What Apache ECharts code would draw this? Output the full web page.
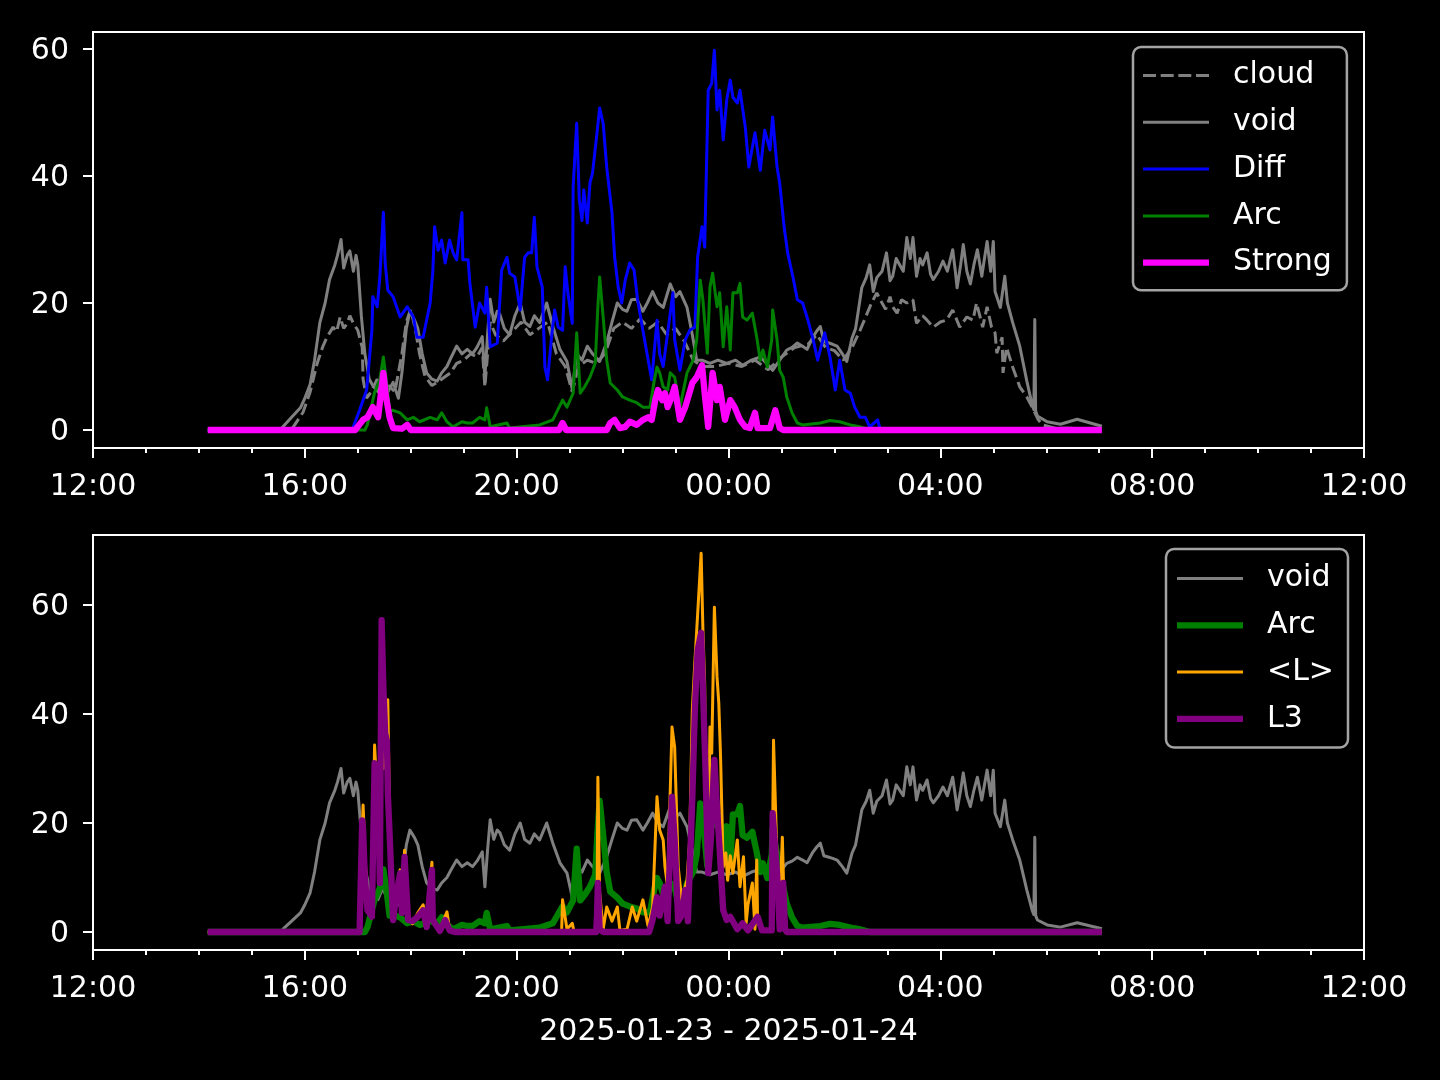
<!DOCTYPE html>
<html><head><meta charset="utf-8">
<script src="https://cdn.jsdelivr.net/npm/echarts@6/dist/echarts.min.js"></script>
<style>html,body{margin:0;background:#000}#c{width:1440px;height:1080px}</style>
</head><body><div id="c"></div>
<script>
// ---- tick labels / texts ----
const xTickLabels = ["12:00","16:00","20:00","00:00","04:00","08:00","12:00"];
const yTicksTop = [0,20,40,60];
const yTicksBottom = [0,20,40,60];
const dateLabel = "2025-01-23 - 2025-01-24";

// ---- series values: [local time, value] ----
const cloud = [["14:10",0],["15:45",0],["15:47",0.5],["15:58",2.8],["16:06",6],["16:14",10.5],["16:20",13],["16:25",14.6],["16:32",16.2],["16:36",15.5],["16:40",17.8],["16:44",16],["16:48",16.8],["16:51",18],["16:55",16.8],["17:00",15.7],["17:05",13],["17:06",8],["17:10",5],["17:15",6],["17:22",8],["17:28",5.5],["17:35",7],["17:42",6],["17:50",12],["17:55",17],["18:00",19],["18:05",16],["18:10",12],["18:16",8.5],["18:24",7],["18:30",7.5],["18:38",8.3],["18:45",9],["18:52",10.5],["19:00",11],["19:08",12],["19:15",11.5],["19:21",13],["19:24",6.8],["19:30",17],["19:36",15],["19:45",14],["19:55",15.5],["20:05",17],["20:15",15],["20:25",16],["20:35",17],["20:45",12],["20:55",10],["21:03",6],["21:10",10],["21:20",11],["21:30",10.5],["21:40",12],["21:50",16],["22:00",17],["22:10",16],["22:20",17.5],["22:30",16],["22:40",17],["22:50",15],["23:00",16],["23:10",14],["23:20",11],["23:30",10],["23:45",10],["00:00",10.5],["00:15",10],["00:30",11],["00:45",9.5],["01:00",11.5],["01:15",13],["01:30",13.5],["01:40",15],["01:50",13],["02:00",12.5],["02:10",11],["02:20",13],["02:29",15.7],["02:36",18],["02:42",20],["02:48",21.6],["02:52",20.5],["02:58",19],["03:03",21],["03:06",19.4],["03:11",18.4],["03:16",20.5],["03:22",20],["03:29",20.5],["03:33",16.8],["03:40",18],["03:45",17.3],["03:52",16.2],["04:00",17],["04:07",17.3],["04:14",18.9],["04:22",16.2],["04:30",17.8],["04:37",17.3],["04:41",20],["04:48",16.2],["04:53",19.4],["04:58",16.2],["05:02",15.3],["05:04",12.1],["05:10",14.6],["05:11",9],["05:15",13],["05:22",9.9],["05:30",6.8],["05:38",5.2],["05:44",3.6],["05:51",1.6],["05:56",0.8],["06:10",0.3],["07:03",0.2]];

const voidVals = [["14:10",0],["15:32",0],["15:37",0.8],["15:45",2],["15:55",3.5],["16:00",5],["16:06",7.2],["16:11",11],["16:17",16.9],["16:23",20],["16:28",23.7],["16:34",26],["16:37",27.5],["16:41",30],["16:44",25.5],["16:48",27.5],["16:51",28.2],["16:55",25],["16:58",27.5],["17:00",26],["17:04",18],["17:08",12],["17:13",8],["17:17",7],["17:23",6],["17:28",8],["17:34",6],["17:40",7.5],["17:46",5],["17:50",9],["17:55",16],["17:59",18.7],["18:04",17.4],["18:08",16],["18:13",12],["18:18",9],["18:24",8],["18:30",7.7],["18:35",9],["18:41",10],["18:46",11.5],["18:52",13.2],["18:58",12],["19:04",12.7],["19:10",12],["19:15",13],["19:21",14.7],["19:24",8.3],["19:27",15],["19:30",20.6],["19:34",17],["19:38",18.7],["19:41",18.2],["19:46",16],["19:52",15],["19:58",18],["20:04",20],["20:09",17],["20:15",16.3],["20:20",18],["20:26",16.9],["20:34",20],["20:41",16.3],["20:49",12.7],["20:57",10.8],["21:03",6.4],["21:08",12],["21:14",11],["21:20",13.2],["21:26",12],["21:34",10.8],["21:42",13.8],["21:48",17],["21:54",20],["22:00",19],["22:05",18.7],["22:10",20.5],["22:16",20.6],["22:23",18.7],["22:28",20],["22:34",21.8],["22:40",20],["22:46",19.3],["22:54",23],["23:00",21],["23:05",21.8],["23:13",19.3],["23:19",15],["23:24",11],["23:30",11],["23:39",10.5],["23:48",11],["23:58",10.5],["00:08",11],["00:16",10.2],["00:26",11],["00:36",11.5],["00:43",10.5],["00:50",9.4],["00:58",11],["01:06",12.6],["01:12",13],["01:18",13.7],["01:24",13.2],["01:29",12.7],["01:35",14.5],["01:40",15.6],["01:44",16.3],["01:48",14],["01:52",13.8],["01:58",13.5],["02:03",13.2],["02:09",12],["02:14",10.8],["02:20",14.5],["02:24",16],["02:27",18.7],["02:31",22.4],["02:36",24],["02:40",26],["02:44",21.8],["02:48",24],["02:54",25],["02:59",27.9],["03:03",23.5],["03:06",24.2],["03:10",27],["03:14",26],["03:18",25],["03:22",30.3],["03:26",27],["03:29",30.3],["03:33",24.2],["03:37",27],["03:40",26],["03:45",27.9],["03:49",24.5],["03:52",23.7],["03:58",25],["04:03",26.6],["04:08",25],["04:14",28.4],["04:17",25],["04:19",22.4],["04:23",26],["04:26",29.2],["04:30",25],["04:34",23],["04:38",26],["04:42",28.4],["04:47",24.2],["04:50",27],["04:53",29.7],["04:57",25],["05:00",29.7],["05:02",21.8],["05:08",19.3],["05:13",24.2],["05:16",20],["05:22",16.9],["05:30",13.2],["05:38",7.7],["05:44",4],["05:46",3.2],["05:47",17.4],["05:48",3],["05:50",2.2],["06:01",1.3],["06:16",0.9],["06:35",1.7],["07:03",0.6]];

const diff = [["14:10",0],["16:53",0],["16:55",0.5],["17:02",3.1],["17:10",6.3],["17:16",15.7],["17:17",21],["17:22",19.4],["17:25",24.1],["17:29",34.3],["17:31",26.3],["17:34",22],["17:40",21],["17:48",17.8],["17:56",19.4],["18:03",17.8],["18:07",14.6],["18:14",14.6],["18:22",20],["18:25",25],["18:27",32],["18:31",28.3],["18:35",29.9],["18:39",26.3],["18:44",29.9],["18:48",27.9],["18:52",26.8],["18:58",34.2],["18:59",26.8],["19:05",26.8],["19:07",23.1],["19:13",16.2],["19:18",20],["19:24",18.4],["19:26",22.5],["19:30",13.1],["19:38",13.7],["19:43",25.2],["19:49",27.2],["19:52",24.7],["19:58",24.1],["20:04",18.9],["20:09",27.2],["20:13",27.9],["20:17",27.9],["20:20",33.5],["20:23",25.7],["20:29",22.5],["20:32",9.9],["20:35",7.9],["20:40",15.3],["20:43",18.9],["20:47",16.2],["20:52",15.7],["20:55",25.7],["20:58",21.6],["21:03",16.8],["21:04",38.3],["21:08",48.3],["21:11",36.2],["21:14",33],["21:16",37.8],["21:20",32.6],["21:23",38.9],["21:26",40.5],["21:31",46.8],["21:34",50.7],["21:38",48.3],["21:42",41.4],["21:48",34.2],["21:51",27.2],["21:55",22.5],["21:59",20],["22:03",23.6],["22:08",26.3],["22:13",25.2],["22:17",20.5],["22:23",15.7],["22:29",11],["22:33",7.9],["22:39",17.3],["22:42",12],["22:46",10],["22:50",14.2],["22:57",21.6],["22:59",14.2],["23:05",9.4],["23:11",14.2],["23:16",15.7],["23:22",16.2],["23:25",27.2],["23:30",32],["23:33",28.8],["23:37",53.5],["23:41",54.6],["23:44",59.8],["23:47",50.4],["23:50",53.5],["23:54",45.7],["23:58",52],["00:02",55.1],["00:05",52.4],["00:10",51.5],["00:13",53.5],["00:19",47.7],["00:23",41.4],["00:30",46.8],["00:36",40.9],["00:41",47.2],["00:47",44.1],["00:50",49.3],["00:55",41.4],["00:58",38.9],["01:03",32],["01:07",27.9],["01:13",24.1],["01:18",20.5],["01:24",20],["01:30",17.3],["01:36",14.2],["01:41",11],["01:49",15.3],["01:55",11.5],["02:01",6.3],["02:06",11],["02:12",6.3],["02:18",5.8],["02:23",3.6],["02:29",2],["02:35",2],["02:40",0.5],["02:49",1.6],["02:52",0],["07:03",0]];

const arc = [["14:10",0],["17:08",0],["17:11",0.9],["17:14",2.8],["17:19",5.9],["17:25",8],["17:29",11.5],["17:33",7],["17:36",3],["17:40",3.1],["17:48",2.7],["17:56",1.6],["18:03",2],["18:10",1.3],["18:22",2],["18:30",1.6],["18:35",2.7],["18:41",1.3],["18:48",0.5],["18:58",1.3],["19:04",1.1],["19:10",1.1],["19:18",2],["19:24",1.6],["19:26",3.5],["19:30",0.5],["19:49",1.1],["19:52",0.3],["20:26",0.8],["20:41",1.6],["20:52",4.7],["20:57",3.6],["21:04",5.8],["21:08",15.3],["21:12",5.8],["21:17",6.8],["21:23",8.3],["21:29",10.5],["21:32",19.4],["21:34",24.1],["21:38",17.8],["21:42",11],["21:46",7.4],["21:54",6.3],["22:00",5.2],["22:08",4.7],["22:16",4.3],["22:23",3.6],["22:31",3.6],["22:36",7.9],["22:39",9.9],["22:42",9],["22:46",6.8],["22:51",6.3],["22:54",9],["22:59",8.3],["23:05",3.6],["23:13",9],["23:20",11],["23:24",14.2],["23:28",23.6],["23:31",20.5],["23:36",12.1],["23:39",22.5],["23:42",24.7],["23:47",19.4],["23:50",21.6],["23:54",13.1],["23:58",19.4],["00:02",12.6],["00:05",21.6],["00:10",21.6],["00:13",23.1],["00:16",17.8],["00:21",17.3],["00:27",18.4],["00:32",14.6],["00:36",11],["00:39",12.6],["00:44",9.9],["00:49",14.2],["00:50",18.9],["00:55",14.2],["00:58",9.4],["01:02",8.3],["01:06",5.2],["01:12",2.7],["01:18",1.1],["01:24",0.8],["01:44",1.1],["01:55",1.5],["02:06",1.3],["02:18",0.8],["02:29",0.5],["02:40",0],["07:03",0]];

const strong = [["14:10",0],["16:57",0],["16:59",0.3],["17:06",1.6],["17:11",2],["17:17",3.6],["17:23",2],["17:29",9],["17:32",5.2],["17:36",2],["17:40",0.3],["17:50",0.2],["17:56",0.8],["18:00",0],["20:48",0],["20:52",1.1],["20:56",0],["21:42",0],["21:46",1.1],["21:51",1.6],["21:57",0.3],["22:03",0.5],["22:08",1.3],["22:16",0.8],["22:23",1.6],["22:29",2],["22:33",1.6],["22:37",4.7],["22:40",6.3],["22:45",4.7],["22:48",5.8],["22:51",3.6],["22:55",5],["22:59",6.8],["23:05",1.6],["23:11",3.6],["23:19",7.4],["23:24",8.3],["23:30",10.2],["23:33",5.8],["23:37",0.5],["23:42",9],["23:47",4.7],["23:50",6.8],["23:56",1.6],["00:02",4.7],["00:07",3.6],["00:13",1.6],["00:19",0.5],["00:24",0.3],["00:30",2.7],["00:33",0.3],["00:47",0.3],["00:53",3.1],["00:58",0.3],["01:02",0],["07:03",0]];

const lMean = [["14:10",0],["17:02",0],["17:05",18],["17:06",23.3],["17:08",15],["17:11",4.5],["17:16",3],["17:19",34.3],["17:21",28],["17:23",26],["17:25",9],["17:27",35],["17:29",30],["17:31",38],["17:34",42.6],["17:36",20],["17:40",3],["17:44",8],["17:48",11.4],["17:50",4],["17:53",15],["17:57",2.5],["18:02",1.5],["18:08",3.5],["18:14",5],["18:18",1],["18:24",12.8],["18:25",2.5],["18:33",0.5],["18:41",3.7],["18:44",0.5],["18:50",0],["20:50",0],["20:51",0.5],["20:52",5.9],["20:57",0.5],["21:03",1.6],["21:05",0],["21:30",0],["21:31",2],["21:32",28.4],["21:34",7.2],["21:38",0.5],["21:42",4.6],["21:48",2],["21:54",4.6],["21:57",0.3],["22:05",0.5],["22:11",4.6],["22:16",2],["22:23",5.9],["22:29",1],["22:34",4.6],["22:39",24.8],["22:42",18.7],["22:46",16.9],["22:48",12],["22:51",8.3],["22:56",37.6],["22:59",33.9],["23:03",12],["23:07",5.9],["23:13",9.5],["23:16",16.9],["23:19",40.7],["23:22",49.9],["23:24",55.4],["23:29",69.5],["23:31",55.4],["23:33",45.7],["23:34",29.2],["23:37",11.9],["23:39",37.6],["23:41",32.8],["23:44",59.6],["23:47",46.8],["23:49",42],["23:51",32.1],["23:54",11.9],["23:57",14.5],["23:59",9.5],["00:02",14],["00:05",10.8],["00:10",16.9],["00:13",8.3],["00:17",13.8],["00:20",1.6],["00:22",5],["00:27",9],["00:30",0.5],["00:32",13.2],["00:33",1.6],["00:38",0.3],["00:49",0.3],["00:51",35.2],["00:55",13.2],["00:57",0.5],["01:01",17.4],["01:03",5],["01:06",0],["07:03",0]];

const l3 = [["14:10",0],["17:02",0],["17:05",20.5],["17:06",19],["17:08",10],["17:11",4],["17:16",2.8],["17:19",31],["17:21",29],["17:23",26.6],["17:25",9],["17:27",57.2],["17:29",45],["17:31",36.5],["17:33",35],["17:34",25.5],["17:36",18.2],["17:40",2.2],["17:44",7.2],["17:48",10.8],["17:50",3.5],["17:53",13.8],["17:57",2.2],["18:02",2],["18:08",2.8],["18:14",4],["18:18",0.9],["18:24",11.4],["18:25",2.2],["18:33",0.2],["18:39",2.2],["18:44",0.3],["18:50",0],["21:30",0],["21:31",3],["21:32",9],["21:34",0.5],["21:38",0],["22:30",0],["22:34",2.2],["22:39",6.4],["22:42",3],["22:48",8.3],["22:51",2],["22:56",24.8],["22:59",17],["23:03",2],["23:07",3],["23:11",7.7],["23:14",2],["23:19",24.5],["23:22",41.3],["23:25",51.7],["23:29",54.9],["23:31",45],["23:34",29.2],["23:37",10.8],["23:40",16.9],["23:44",31.6],["23:47",22.9],["23:50",15],["23:54",4],["23:58",2.2],["00:02",2.8],["00:10",0.5],["00:16",1.6],["00:22",0.3],["00:33",2.8],["00:38",0.3],["00:49",0.3],["00:50",21.8],["00:55",10.8],["00:58",0.5],["01:02",9],["01:04",0.5],["01:06",0],["07:03",0]];

// ---- helpers ----
function toH(s){const p=s.split(':').map(Number);const h=p[0]<12?p[0]+24:p[0];return h-12+p[1]/60;}
function pts(a){return a.map(p=>[toH(p[0]),p[1]]);}

const FONT = 'DejaVu Sans';
const FS = 30;
const GRAY='#808080', BLUE='#0000ff', GREEN='#008000', MAG='#ff00ff', ORANGE='#ffa500', PURPLE='#800080';
const THIN=3, THICK=6.3;
const ICON_THIN='path://M0 0H66V3H0Z';
const ICON_THICK='path://M0 0H66V6.3H0Z';
const ICON_DASH='path://M0 0H13V3H0ZM17.7 0H30.7V3H17.7ZM35.3 0H48.3V3H35.3ZM53 0H66V3H53Z';

function xAx(gi, named){
  return {type:'value', gridIndex:gi, min:0, max:24, interval:4,
    axisLine:{show:true, onZero:false, lineStyle:{color:'#fff', width:2}},
    axisTick:{show:true, length:10, lineStyle:{color:'#fff', width:2}},
    minorTick:{show:true, splitNumber:4, length:5, lineStyle:{color:'#fff', width:2}},
    splitLine:{show:false}, minorSplitLine:{show:false},
    axisLabel:{color:'#fff', fontSize:FS, fontFamily:FONT, margin:24, showMinLabel:true, showMaxLabel:true,
      formatter:v=>xTickLabels[Math.round(v/4)]},
    name: named?dateLabel:'', nameLocation:'middle', nameGap:67,
    nameTextStyle:{color:'#fff', fontSize:FS, fontFamily:FONT}
  };
}
function yAx(gi, mn, mx, ticks){
  return {type:'value', gridIndex:gi, min:mn, max:mx,
    axisLine:{show:true, onZero:false, lineStyle:{color:'#fff', width:2}},
    axisTick:{show:true, length:10, customValues:ticks, lineStyle:{color:'#fff', width:2}},
    axisLabel:{color:'#fff', fontSize:FS, fontFamily:FONT, margin:24, customValues:ticks,
      verticalAlign:'top', lineHeight:4},
    splitLine:{show:false}
  };
}
function line(name, data, color, width, xi, extra){
  return Object.assign({type:'line', name, data:pts(data), xAxisIndex:xi, yAxisIndex:xi,
    symbol:'none', showSymbol:false, animation:false, silent:true,
    lineStyle:{color, width, join:'round'}, itemStyle:{color}}, extra||{});
}
const legendBase = {orient:'vertical', itemWidth:66, itemHeight:14, itemGap:11.8,
  backgroundColor:'#000', borderColor:'#a3a3a3', borderWidth:2.5, borderRadius:8,
  selectedMode:false, itemStyle:{borderWidth:0},
  textStyle:{color:'#fff', fontSize:FS, fontFamily:FONT, lineHeight:30, padding:[5,0,0,19]}};

const option = {
  backgroundColor:'#000', animation:false,
  grid:[
    {left:93, top:32, width:1271, height:416, show:true, borderColor:'#fff', borderWidth:2},
    {left:93, top:535, width:1271, height:415, show:true, borderColor:'#fff', borderWidth:2}
  ],
  xAxis:[xAx(0,false), xAx(1,true)],
  yAxis:[yAx(0,-2.835,62.68,yTicksTop), yAx(1,-3.3,72.84,yTicksBottom)],
  legend:[
    Object.assign({}, legendBase, {left:1133, top:47, padding:[11,15,10,10],
      data:[{name:'cloud',icon:ICON_DASH},{name:'void',icon:ICON_THIN},{name:'Diff',icon:ICON_THIN},{name:'Arc',icon:ICON_THIN},{name:'Strong',icon:ICON_THICK}]}),
    Object.assign({}, legendBase, {left:1166, top:549, padding:[12,14,11,11],
      data:[{name:'void',icon:ICON_THIN},{name:'Arc',icon:ICON_THICK},{name:'<L>',icon:ICON_THIN},{name:'L3',icon:ICON_THICK}]})
  ],
  series:[
    line('cloud', cloud, GRAY, THIN, 0, {lineStyle:{color:GRAY, width:THIN, type:[12,5]}}),
    line('void', voidVals, GRAY, THIN, 0),
    line('Diff', diff, BLUE, THIN, 0),
    line('Arc', arc, GREEN, THIN, 0),
    line('Strong', strong, MAG, THICK, 0),
    line('void', voidVals, GRAY, THIN, 1),
    line('Arc', arc, GREEN, THICK, 1),
    line('<L>', lMean, ORANGE, THIN, 1),
    line('L3', l3, PURPLE, THICK, 1)
  ]
};
const chart = echarts.init(document.getElementById('c'), null, {renderer:'canvas'});
chart.setOption(option);
</script>
</body></html>
